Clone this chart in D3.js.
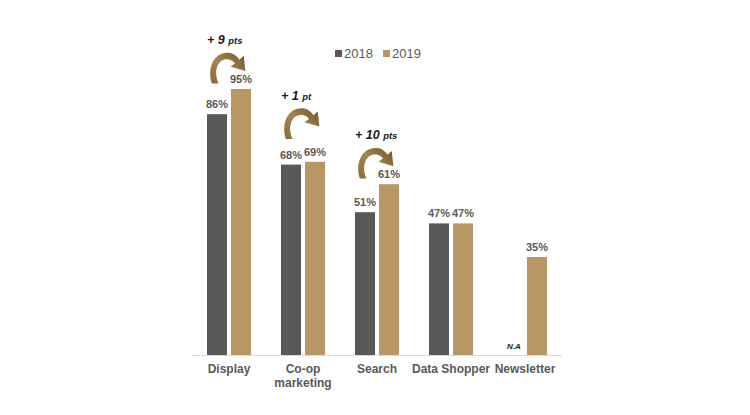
<!DOCTYPE html>
<html><head><meta charset="utf-8">
<script src="https://cdn.jsdelivr.net/npm/d3@7"></script>
<style>body{margin:0;background:#fff}svg{display:block}</style>
</head><body><svg id="c" width="750" height="415"></svg>
<script>
const categories = ["Display", "Co-op\nmarketing", "Search", "Data Shopper", "Newsletter"];
const series = ["2018", "2019"];
const values2018 = [86, 68, 51, 47, null];
const values2019 = [95, 69, 61, 47, 35];
const changeValues = ["+ 9", "+ 1", "+ 10", null, null];
const changeUnits = ["pts", "pt", "pts", null, null];
const colors = ["#595959", "#b99664"];

const svg = d3.select("#c");
const font = "'Liberation Sans', Arial, sans-serif";
const x = d3.scaleBand().domain(d3.range(categories.length)).range([192, 562]).paddingInner(0).paddingOuter(0);
const y = d3.scaleLinear().domain([0, 100]).range([355, 75]);
const barW = 20, gap = 4;
const barX = (i, s) => x(i) + x.bandwidth() / 2 - barW - gap / 2 + s * (barW + gap);

const defs = svg.append("defs");
const g = defs.append("linearGradient").attr("id", "ag").attr("x1", "0").attr("y1", "1").attr("x2", "1").attr("y2", "0");
g.append("stop").attr("offset", "0").attr("stop-color", "#8a6a38");
g.append("stop").attr("offset", "0.5").attr("stop-color", "#a5854f");
g.append("stop").attr("offset", "1").attr("stop-color", "#6f5128");

svg.append("line").attr("x1", 192).attr("x2", 562).attr("y1", y(0) + 0.5).attr("y2", y(0) + 0.5)
  .attr("stroke", "#d9d9d9").attr("stroke-width", 1);

const data = [values2018, values2019];
data.forEach((vals, s) => {
  vals.forEach((v, i) => {
    if (v == null) return;
    svg.append("rect").attr("x", barX(i, s)).attr("y", y(v)).attr("width", barW).attr("height", y(0) - y(v))
      .attr("fill", colors[s]);
    svg.append("text").attr("x", barX(i, s) + barW / 2).attr("y", y(v) - 6)
      .attr("text-anchor", "middle").attr("font-family", font).attr("font-weight", "bold")
      .attr("font-size", 11).attr("fill", "#595959").text(v + "%");
  });
});

values2018.forEach((v, i) => {
  if (v != null) return;
  svg.append("text").attr("x", barX(i, 0) + barW / 2 + 1).attr("y", y(0) - 6)
    .attr("text-anchor", "middle").attr("font-family", font).attr("font-weight", "bold")
    .attr("font-style", "italic").attr("font-size", 8).attr("fill", "#222").text("N.A");
});

categories.forEach((c, i) => {
  const t = svg.append("text").attr("x", x(i) + x.bandwidth() / 2).attr("y", 373)
    .attr("text-anchor", "middle").attr("font-family", font).attr("font-weight", "bold")
    .attr("font-size", 12).attr("fill", "#595959");
  c.split("\n").forEach((line, k) => {
    t.append("tspan").attr("x", x(i) + x.bandwidth() / 2).attr("dy", k === 0 ? 0 : 13.5).text(line);
  });
});

const arrowPath = "M3.5,30 C-1.5,14 7,-1 21,2 C24.5,3 27,5.5 28.5,8 L32.5,4.5 L34,18.5 L20.5,14.5 L24.5,11.5 C23,9.5 21.5,8.5 19.5,8 C10.5,6 4,16 9.5,30 Z";
changeValues.forEach((cv, i) => {
  if (cv == null) return;
  const top = Math.min(y(values2018[i]) - 58, y(values2019[i]) - 38);
  const x0 = barX(i, 0) + 1;
  svg.append("path").attr("d", arrowPath).attr("transform", `translate(${x0},${top}) scale(1.1,1.08)`)
    .attr("fill", "url(#ag)");
  const t = svg.append("text").attr("x", barX(i, 0)).attr("y", top - 7)
    .attr("font-family", font).attr("font-weight", "bold").attr("font-style", "italic").attr("fill", "#1a1a1a");
  t.append("tspan").attr("font-size", 12.5).text(cv + " ");
  t.append("tspan").attr("font-size", 9.5).text(changeUnits[i]);
});

const lg = svg.append("g").attr("font-family", font).attr("font-size", 13).attr("fill", "#595959");
const legX = [335, 383];
series.forEach((s, k) => {
  lg.append("rect").attr("x", legX[k]).attr("y", 50).attr("width", 7).attr("height", 7).attr("fill", colors[k]);
  lg.append("text").attr("x", legX[k] + 9).attr("y", 58).attr("fill", "#595959").text(s);
});
</script></body></html>
